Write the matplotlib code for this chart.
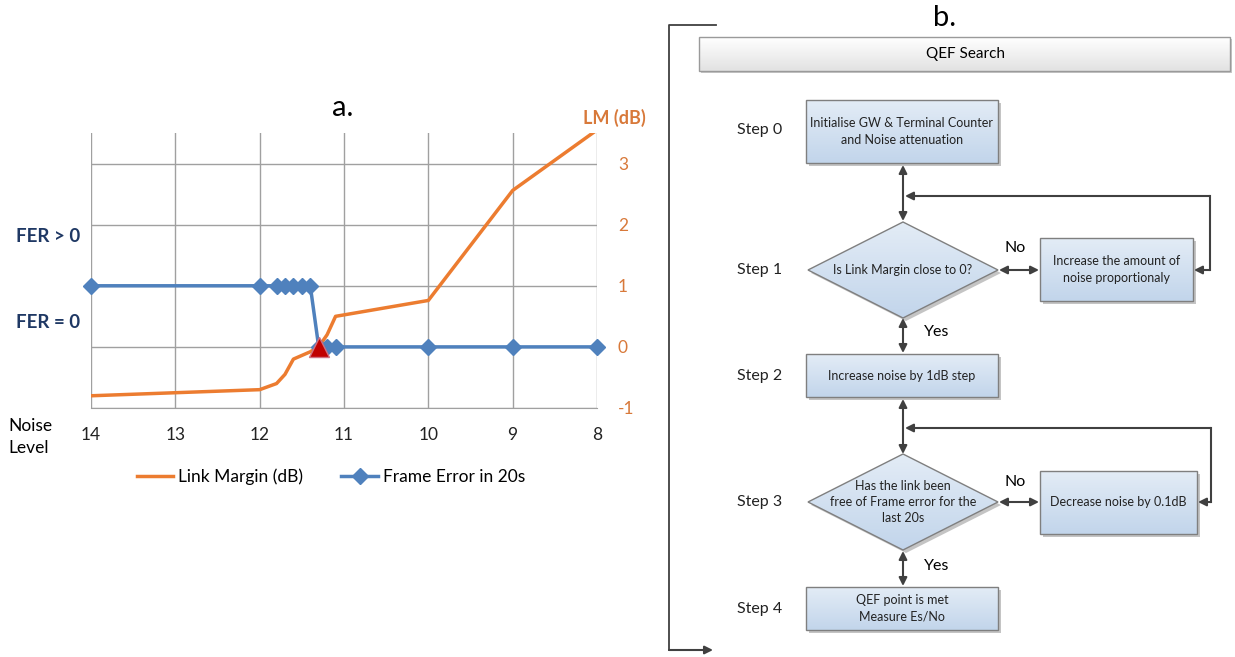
import numpy as np
import matplotlib
matplotlib.use("Agg")
import matplotlib.pyplot as plt
from matplotlib.patches import Rectangle, Polygon
from matplotlib.lines import Line2D

plt.rcParams['font.family'] = ['Lato', 'DejaVu Sans']

# chart data
noise = [14, 12, 11.8, 11.7, 11.6, 11.5, 11.4, 11.3, 11.2, 11.1, 10, 9, 8]
fer = [1, 1, 1, 1, 1, 1, 1, 0, 0, 0, 0, 0, 0]
lm_noise = [14, 12, 11.8, 11.7, 11.6, 11.5, 11.4, 11.3, 11.2, 11.1, 10, 9, 8]
lm = [-0.80, -0.70, -0.60, -0.45, -0.20, -0.14, -0.08, 0.0, 0.20, 0.50, 0.76, 2.56, 3.55]
qef_noise = [11.3]
qef_lm = [0.0]
x_ticks = [14, 13, 12, 11, 10, 9, 8]
y_ticks = [-1, 0, 1, 2, 3]

ORANGE = '#EC7C30'
BLUE = '#4F81BD'
GRID = '#A0A0A0'
W, H = 1235, 657

fig = plt.figure(figsize=(W / 100, H / 100), dpi=100)

# ---- chart a.
ax = fig.add_axes([91 / W, 1 - 408 / H, 506 / W, 275 / H])
ax.plot(lm_noise, lm, color=ORANGE, lw=2.5, zorder=3, clip_on=True)
ax.plot(noise, fer, color=BLUE, lw=2.5, marker='D', ms=8, zorder=4, clip_on=False)
ax.plot(qef_noise, qef_lm, ls='none', marker='^', ms=14, color='#C00000',
        mec='#D07080', mew=1, zorder=5, clip_on=False)
ax.set_xlim(14, 8)
ax.set_ylim(-1, 3.5)
ax.set_xticks(x_ticks)
ax.set_xticklabels([str(v) for v in x_ticks])
ax.set_yticks(y_ticks)
ax.set_yticklabels([str(v) for v in y_ticks])
ax.yaxis.tick_right()
ax.tick_params(axis='x', length=0, pad=14, labelsize=12.5, labelcolor='#222222')
ax.tick_params(axis='y', length=0, pad=15, labelsize=12.5, labelcolor='#D8793A')
ax.grid(True, color=GRID, lw=1)
for s in ['top', 'left', 'right']:
    ax.spines[s].set_visible(False)
ax.spines['bottom'].set_color(GRID)

handles = [Line2D([], [], color=ORANGE, lw=2.5),
           Line2D([], [], color=BLUE, lw=2.5, marker='D', ms=8)]
fig.legend(handles, ['Link Margin (dB)', 'Frame Error in 20s'], loc='center',
           bbox_to_anchor=(331 / W, 1 - 477 / H), ncol=2, frameon=False,
           fontsize=12.5, handlelength=2.1, columnspacing=2.2, handletextpad=0.3)

# ---- overlay in pixel coordinates
ov = fig.add_axes([0, 0, 1, 1])
ov.set_xlim(0, W)
ov.set_ylim(H, 0)
ov.axis('off')
ov.patch.set_alpha(0)

ov.text(343, 108, 'a.', fontsize=21, ha='center', va='center')
ov.text(945, 18, 'b.', fontsize=21, ha='center', va='center')
ov.text(614, 118, 'LM (dB)', fontsize=13, color='#D8793A', ha='center', va='center',
        fontweight='bold')
ov.text(48, 236, 'FER > 0', fontsize=13.5, color='#1F3864', ha='center', va='center',
        fontweight='bold')
ov.text(48, 323, 'FER = 0', fontsize=13.5, color='#1F3864', ha='center', va='center',
        fontweight='bold')
ov.text(8, 437, 'Noise\nLevel', fontsize=12.5, ha='left', va='center', linespacing=1.5)

# ---- flowchart b.
ARW = '#404040'


def grad_img(c_top, c_bot):
    t = np.linspace(0, 1, 64).reshape(-1, 1, 1)
    a = np.array(matplotlib.colors.to_rgb(c_top)).reshape(1, 1, 3)
    b = np.array(matplotlib.colors.to_rgb(c_bot)).reshape(1, 1, 3)
    return a + (b - a) * t


def box(x0, y0, x1, y1, text, fs=9, c_top='#E3ECF6', c_bot='#C2D5EB'):
    ov.add_patch(Rectangle((x0 + 3, y0 + 3), x1 - x0, y1 - y0, fc='#C4C4C4', ec='none', zorder=1))
    ov.imshow(grad_img(c_top, c_bot), extent=(x0, x1, y1, y0), aspect='auto', zorder=2)
    ov.add_patch(Rectangle((x0, y0), x1 - x0, y1 - y0, fc='none', ec='#7F7F7F', lw=1, zorder=3))
    ov.text((x0 + x1) / 2, (y0 + y1) / 2, text, fontsize=fs, ha='center', va='center',
            zorder=4, linespacing=1.45, color='#222222')


def diamond(cx, cy, hw, hh, text, fs=9):
    pts = [(cx, cy - hh), (cx + hw, cy), (cx, cy + hh), (cx - hw, cy)]
    ov.add_patch(Polygon([(x + 3, y + 3) for x, y in pts], fc='#C4C4C4', ec='none', zorder=1))
    im = ov.imshow(grad_img('#E3ECF6', '#C2D5EB'), extent=(cx - hw, cx + hw, cy + hh, cy - hh),
                   aspect='auto', zorder=2)
    p = Polygon(pts, fc='none', ec='#7F7F7F', lw=1, zorder=3)
    ov.add_patch(p)
    im.set_clip_path(p)
    ov.text(cx, cy, text, fontsize=fs, ha='center', va='center', zorder=4,
            linespacing=1.45, color='#222222')


def arrow(x0, y0, x1, y1, style='<|-|>'):
    ov.annotate('', xy=(x1, y1), xytext=(x0, y0),
                arrowprops=dict(arrowstyle=style, color=ARW, lw=1.5, mutation_scale=12,
                                shrinkA=0, shrinkB=0), zorder=5)


# bracket
ov.plot([716, 669, 669], [25, 25, 650], color=ARW, lw=1.3)
arrow(669, 650, 713, 650, '-|>')

# header
ov.add_patch(Rectangle((701, 39), 531, 34, fc='#C8C8C8', ec='none', zorder=1))
ov.imshow(grad_img('#FFFFFF', '#E2E2E2'), extent=(699, 1230, 71, 37), aspect='auto', zorder=2)
ov.add_patch(Rectangle((699, 37), 531, 34, fc='none', ec='#9A9A9A', lw=1, zorder=3))
ov.text(965, 54, 'QEF Search', fontsize=11, ha='center', va='center', zorder=4)

# step labels
for lbl, y in [('Step 0', 130), ('Step 1', 270), ('Step 2', 376), ('Step 3', 502), ('Step 4', 609)]:
    ov.text(737, y, lbl, fontsize=11.5, ha='left', va='center', color='#222222')

box(806, 100, 998, 163, 'Initialise GW & Terminal Counter\nand Noise attenuation')
diamond(903, 270, 95, 48, 'Is Link Margin close to 0?')
box(1040, 238, 1193, 301, 'Increase the amount of\nnoise proportionaly')
box(806, 354, 998, 397, 'Increase noise by 1dB step')
diamond(903, 502, 95, 48, 'Has the link been\nfree of Frame error for the\nlast 20s')
box(1040, 471, 1197, 534, 'Decrease noise by 0.1dB')
box(806, 587, 998, 630, 'QEF point is met\nMeasure Es/No')

# connectors
arrow(903, 165, 903, 221)
arrow(999, 270, 1039, 270)
ov.plot([1210, 1210], [196, 270], color=ARW, lw=1.5)
arrow(1210, 196, 905, 196, '-|>')
arrow(1210, 270, 1194, 270, '-|>')
arrow(903, 318, 903, 353)
arrow(903, 399, 903, 454)
arrow(999, 502, 1039, 502)
ov.plot([1211, 1211], [428, 502], color=ARW, lw=1.5)
arrow(1211, 428, 905, 428, '-|>')
arrow(1211, 502, 1198, 502, '-|>')
arrow(903, 551, 903, 586)

ov.text(1015, 248, 'No', fontsize=11.5, ha='center', va='center')
ov.text(1015, 482, 'No', fontsize=11.5, ha='center', va='center')
ov.text(937, 332, 'Yes', fontsize=11.5, ha='center', va='center')
ov.text(937, 566, 'Yes', fontsize=11.5, ha='center', va='center')

ov.set_xlim(0, W)
ov.set_ylim(H, 0)

fig.savefig('out.png', dpi=100)
